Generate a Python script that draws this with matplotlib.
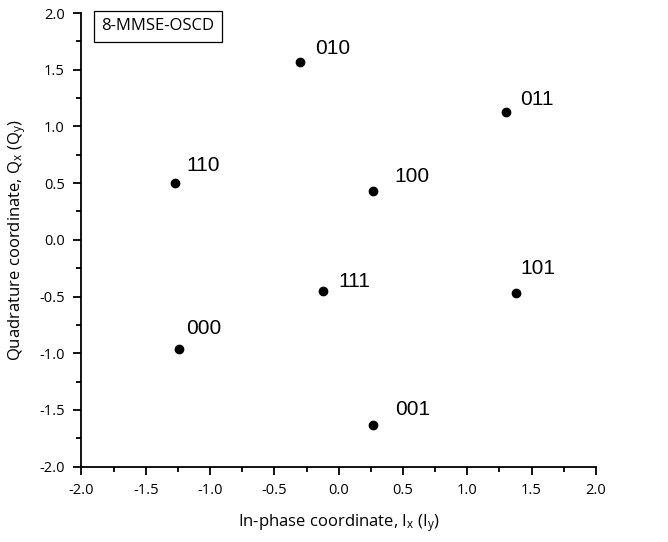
import matplotlib
matplotlib.use("Agg")
import matplotlib.pyplot as plt
from matplotlib.ticker import MultipleLocator, FormatStrFormatter

labels = ["010", "011", "110", "100", "111", "101", "000", "001"]
i_vals = [-0.30, 1.30, -1.27, 0.27, -0.12, 1.38, -1.24, 0.27]
q_vals = [1.57, 1.13, 0.50, 0.43, -0.45, -0.47, -0.96, -1.63]
# label offsets in points (dx, dy of text baseline-left)
label_dx = [11, 10, 8, 15, 11, 3, 5, 16]
label_dy = [3, 2, 6, 4, 0, 11, 8, 4]

title_box = "8-MMSE-OSCD"

plt.rcParams["mathtext.fontset"] = "custom"
plt.rcParams["mathtext.rm"] = "Open Sans"
plt.rcParams["mathtext.it"] = "Open Sans"

fig = plt.figure(figsize=(6.68, 5.42), dpi=100)
ax = fig.add_axes([0.122, 0.139, 0.770, 0.837])

ax.scatter(i_vals, q_vals, s=36, color="black", zorder=3)
for lab, x, y, dx, dy in zip(labels, i_vals, q_vals, label_dx, label_dy):
    ax.annotate(lab, (x, y), xytext=(dx, dy), textcoords="offset points",
                fontsize=15, family="Liberation Sans", ha="left", va="bottom")

ax.set_xlim(-2.0, 2.0)
ax.set_ylim(-2.0, 2.0)
ax.xaxis.set_major_locator(MultipleLocator(0.5))
ax.yaxis.set_major_locator(MultipleLocator(0.5))
ax.xaxis.set_minor_locator(MultipleLocator(0.25))
ax.yaxis.set_minor_locator(MultipleLocator(0.25))
ax.xaxis.set_major_formatter(FormatStrFormatter("%.1f"))
ax.yaxis.set_major_formatter(FormatStrFormatter("%.1f"))

for s in ["top", "right"]:
    ax.spines[s].set_visible(False)
for s in ["left", "bottom"]:
    ax.spines[s].set_linewidth(1.3)

ax.tick_params(which="major", direction="out", length=6, width=1.3,
               labelsize=10.5, pad=6)
ax.tick_params(which="minor", direction="out", length=3.5, width=1.3)
for t in ax.get_xticklabels() + ax.get_yticklabels():
    t.set_family("Open Sans")

ax.set_xlabel(r"In-phase coordinate, I$_\mathrm{x}$ (I$_\mathrm{y}$)",
              fontsize=12, family="Open Sans", labelpad=10)
ax.set_ylabel(r"Quadrature coordinate, Q$_\mathrm{x}$ (Q$_\mathrm{y}$)",
              fontsize=12, family="Open Sans", labelpad=8)

fig.text(0.152, 0.952, title_box, fontsize=12, family="Open Sans",
         ha="left", va="center",
         bbox=dict(boxstyle="square,pad=0.45", facecolor="white",
                   edgecolor="black", linewidth=0.9))

fig.savefig("out.png", dpi=100)
